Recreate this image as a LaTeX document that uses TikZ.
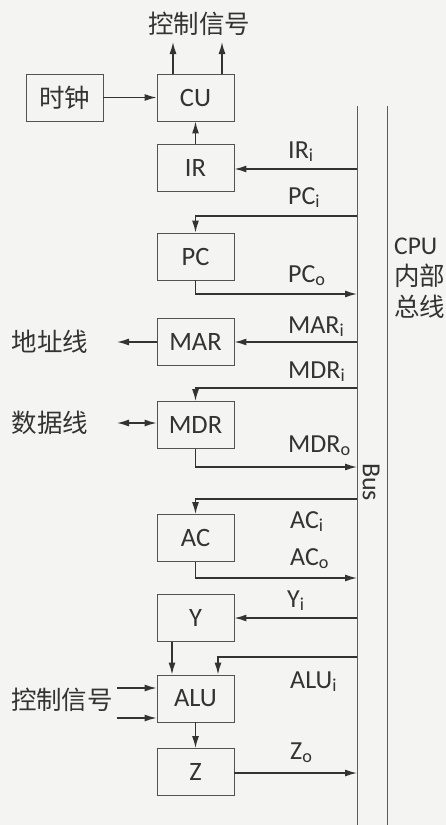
\documentclass[tikz,border=0pt]{standalone}
\usepackage{fontspec}
\setmainfont{Carlito}
\newfontfamily\cjk{Noto Sans CJK SC}
\usetikzlibrary{arrows.meta}
\definecolor{ink}{HTML}{333333}
\definecolor{paper}{HTML}{F4F4F2}
\begin{document}
\begin{tikzpicture}[x=1pt,y=-1pt,
  every node/.style={text=ink},
  reg/.style={draw=ink!85, line width=0.9pt, minimum width=77pt, minimum height=47pt, inner sep=0pt, font=\fontsize{26.5}{30}\selectfont},
  lbl/.style={anchor=base west, inner sep=0pt, font=\fontsize{26}{28}\selectfont},
  cjkt/.style={font=\cjk\fontsize{25.5}{31}\selectfont},
  arr/.style={draw=ink, line width=1.4pt, -{Latex[length=12pt,width=7pt]}},
  busline/.style={draw=ink!80, line width=0.9pt}]
\fill[paper] (0,0) rectangle (446,825);
\useasboundingbox (0,0) rectangle (446,825);

% bus
\coordinate (busTL) at (357,106);
\coordinate (busBL) at (357,825);
\coordinate (busTR) at (387,106);
\coordinate (busBR) at (387,825);
\draw[busline] (busTL) -- (busBL);
\draw[busline] (busTR) -- (busBR);
\node[cjkt, anchor=west, align=left, inner sep=0pt] (cpubus) at (394,278) {{\fontspec{Carlito}CPU}\\内部\\总线};
\node[rotate=-90, font=\fontsize{26}{28}\selectfont, inner sep=0pt] (buslbl) at (371,482) {Bus};

% registers
\node[reg, cjkt] (clk) at (64.5,97.5) {时钟};
\node[reg] (CU) at (195.5,97.5) {CU};
\node[reg] (IR) at (195.5,168) {IR};
\node[reg] (PC) at (195.5,256.5) {PC};
\node[reg] (MAR) at (195.5,341.5) {MAR};
\node[reg] (MDR) at (195.5,425) {MDR};
\node[reg] (AC) at (195.5,538) {AC};
\node[reg] (Y) at (195.5,618) {Y};
\node[reg] (ALU) at (195.5,698.5) {ALU};
\node[reg] (Z) at (195.5,772) {Z};

% top control signals
\node[cjkt] (ctltop) at (199,24) {控制信号};
\coordinate (cu1) at (173,42);
\coordinate (cu2) at (222,42);
\draw[arr] (CU.north -| cu1) -- (cu1);
\draw[arr] (CU.north -| cu2) -- (cu2);
\draw[arr] (clk) -- (CU);
\draw[arr] (IR) -- (CU);

% bus taps
\coordinate (irin) at (357,169);
\coordinate (pcin) at (357,216);
\coordinate (pcout) at (357,294);
\coordinate (marin) at (357,342);
\coordinate (mdrin) at (357,388);
\coordinate (mdrout) at (357,467);
\coordinate (acin) at (357,499);
\coordinate (acout) at (357,578);
\coordinate (yin) at (357,618);
\coordinate (aluin) at (357,657);
\coordinate (zout) at (357,773);

\draw[arr] (irin) -- (irin -| IR.east);
\draw[arr] (pcin) -| (PC.north);
\draw[arr] (PC.south) |- (pcout);
\draw[arr] (marin) -- (marin -| MAR.east);
\draw[arr] (mdrin) -| (MDR.north);
\draw[arr] (MDR.south) |- (mdrout);
\draw[arr] (acin) -| (AC.north);
\draw[arr] (AC.south) |- (acout);
\draw[arr] (yin) -- (yin -| Y.east);
\draw[arr] (aluin) -| ([xshift=22.5pt]ALU.north);
\draw[arr] ([xshift=-23.5pt]Y.south) -- ([xshift=-23.5pt]ALU.north);
\draw[arr] (ALU) -- (Z);
\draw[arr] (zout -| Z.east) -- (zout);

% labels
\node[lbl] (lIR) at (288,158) {IR\textsubscript{i}};
\node[lbl] (lPCi) at (288,204) {PC\textsubscript{i}};
\node[lbl] (lPCo) at (288,282) {PC\textsubscript{o}};
\node[lbl] (lMAR) at (288,333) {MAR\textsubscript{i}};
\node[lbl] (lMDRi) at (288,378) {MDR\textsubscript{i}};
\node[lbl] (lMDRo) at (288,452) {MDR\textsubscript{o}};
\node[lbl] (lACi) at (290,528) {AC\textsubscript{i}};
\node[lbl] (lACo) at (290,565) {AC\textsubscript{o}};
\node[lbl] (lY) at (287,607) {Y\textsubscript{i}};
\node[lbl] (lALU) at (290,688) {ALU\textsubscript{i}};
\node[lbl] (lZ) at (290,759) {Z\textsubscript{o}};

% left side
\node[cjkt] (addr) at (50,342) {地址线};
\coordinate (addrend) at (117,342);
\draw[arr] (MAR.west |- addrend) -- (addrend);
\node[cjkt] (data) at (50,423) {数据线};
\coordinate (dataend) at (117,423);
\draw[arr, {Latex[length=12pt,width=7pt]}-{Latex[length=12pt,width=7pt]}] (dataend) -- (MDR.west |- dataend);
\node[cjkt] (ctlleft) at (62,700) {控制信号};
\coordinate (c1) at (117,688);
\coordinate (c2) at (117,718);
\draw[arr] (c1) -- (c1 -| ALU.west);
\draw[arr] (c2) -- (c2 -| ALU.west);
\end{tikzpicture}
\end{document}
